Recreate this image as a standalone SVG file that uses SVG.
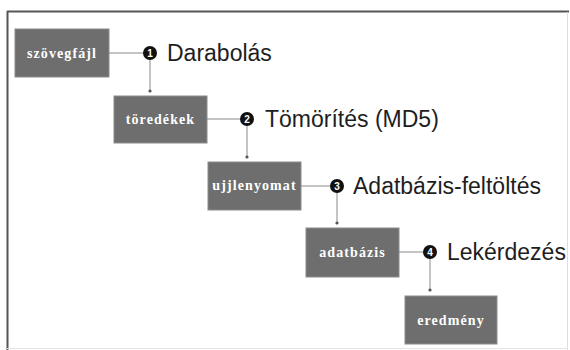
<svg xmlns="http://www.w3.org/2000/svg" width="570" height="350" viewBox="0 0 570 350">
<style>
.box{fill:#6e6e6e;stroke:#8c8c8c;stroke-width:1}
.bt{font-family:"Liberation Serif","Times New Roman",serif;font-weight:bold;font-size:14px;fill:#ffffff;text-anchor:middle;letter-spacing:1.1px}
.num{fill:#111111}
.nt{font-family:"Liberation Sans",Arial,sans-serif;font-weight:bold;font-size:10px;fill:#ffffff;text-anchor:middle}
.lbl{font-family:"Liberation Sans",Arial,sans-serif;font-size:23px;fill:#1e1e1e}
.ln{stroke:#8a8a8a;stroke-width:1;fill:none}
</style>
<defs>
<marker id="ah" markerWidth="4" markerHeight="4" refX="2" refY="2" orient="auto" markerUnits="userSpaceOnUse">
<circle cx="2" cy="2" r="1.6" fill="#555555"/>
</marker>
</defs>
<rect x="0" y="0" width="570" height="350" fill="#ffffff"/>
<g id="frame">
<line x1="7" y1="11.5" x2="569" y2="11.5" stroke="#555555" stroke-width="2"/>
<line x1="7.5" y1="11" x2="7.5" y2="350" stroke="#555555" stroke-width="2"/>
<line x1="567.5" y1="12" x2="567.5" y2="350" stroke="#dddddd" stroke-width="1"/>
<line x1="7" y1="348.5" x2="568" y2="348.5" stroke="#e4e4e4" stroke-width="1"/>
</g>
<g id="connectors">
<line class="ln" x1="109" y1="53" x2="144" y2="53"/>
<line class="ln" x1="150" y1="53" x2="150" y2="91" marker-end="url(#ah)"/>
<line class="ln" x1="207" y1="119" x2="241" y2="119"/>
<line class="ln" x1="247" y1="119" x2="247" y2="157" marker-end="url(#ah)"/>
<line class="ln" x1="301" y1="186" x2="331" y2="186"/>
<line class="ln" x1="337" y1="186" x2="337" y2="223" marker-end="url(#ah)"/>
<line class="ln" x1="399" y1="252" x2="424" y2="252"/>
<line class="ln" x1="430" y1="252" x2="430" y2="290" marker-end="url(#ah)"/>
</g>
<g id="n1">
<rect class="box" x="15" y="29" width="94" height="48"/>
<text class="bt" x="62" y="58">szövegfájl</text>
</g>
<g id="n2">
<rect class="box" x="114" y="96" width="93" height="47"/>
<text class="bt" x="160.5" y="124">töredékek</text>
</g>
<g id="n3">
<rect class="box" x="208" y="162" width="93" height="48"/>
<text class="bt" x="254.5" y="190">ujjlenyomat</text>
</g>
<g id="n4">
<rect class="box" x="306" y="228" width="93" height="49"/>
<text class="bt" x="352.5" y="257">adatbázis</text>
</g>
<g id="n5">
<rect class="box" x="405" y="296" width="92" height="48"/>
<text class="bt" x="451" y="325">eredmény</text>
</g>
<g id="step1">
<circle class="num" cx="150" cy="53" r="7"/>
<text class="nt" x="150" y="56.6">1</text>
<text class="lbl" x="167" y="61">Darabolás</text>
</g>
<g id="step2">
<circle class="num" cx="247" cy="119" r="7"/>
<text class="nt" x="247" y="122.6">2</text>
<text class="lbl" x="265" y="127">Tömörítés (MD5)</text>
</g>
<g id="step3">
<circle class="num" cx="337" cy="186" r="7"/>
<text class="nt" x="337" y="189.6">3</text>
<text class="lbl" x="353" y="194">Adatbázis-feltöltés</text>
</g>
<g id="step4">
<circle class="num" cx="430" cy="252" r="7"/>
<text class="nt" x="430" y="255.6">4</text>
<text class="lbl" x="447" y="260">Lekérdezés</text>
</g>
</svg>
